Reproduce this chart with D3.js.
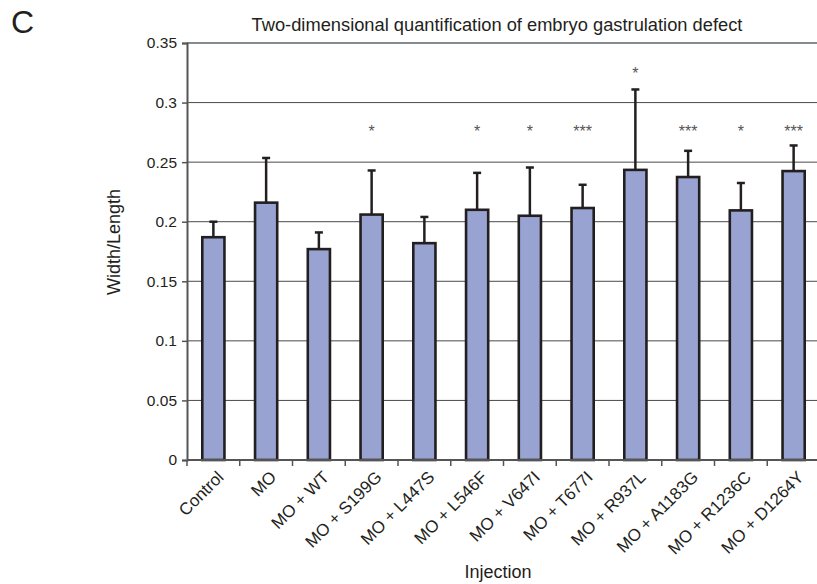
<!DOCTYPE html>
<html>
<head>
<meta charset="utf-8">
<script src="https://cdn.jsdelivr.net/npm/d3@7"></script>
<style>
  body { margin: 0; background: #fff; }
  svg { display: block; font-family: "Liberation Sans", Arial, sans-serif; }
</style>
</head>
<body>
<svg id="chart" width="817" height="584"></svg>
<script>
// data
const categories = ['Control', 'MO', 'MO + WT', 'MO + S199G', 'MO + L447S', 'MO + L546F',
  'MO + V647I', 'MO + T677I', 'MO + R937L', 'MO + A1183G', 'MO + R1236C', 'MO + D1264Y'];
const means = [0.187, 0.216, 0.177, 0.206, 0.182, 0.210, 0.205, 0.2115, 0.2435, 0.2375, 0.2095, 0.2425];
const errTops = [0.200, 0.2535, 0.191, 0.243, 0.204, 0.241, 0.2455, 0.231, 0.311, 0.2595, 0.2325, 0.264];
const stars = ['', '', '', '*', '', '*', '*', '***', '*', '***', '*', '***'];
const yTicks = [0, 0.05, 0.1, 0.15, 0.2, 0.25, 0.3, 0.35];

const svg = d3.select('#chart'),
  plotLeft = 187, plotRight = 820, plotTop = 43, plotBottom = 460;

const x = d3.scaleBand()
  .domain(categories)
  .range([plotLeft, plotRight])
  .paddingInner(0.58)
  .paddingOuter(0.29);

const y = d3.scaleLinear()
  .domain([0, 0.35])
  .range([plotBottom, plotTop]);

// gridlines
svg.append('g')
  .selectAll('line')
  .data(yTicks.filter(d => d > 0 && d < 0.35))
  .enter()
  .append('line')
  .attr('x1', plotLeft).attr('x2', plotRight)
  .attr('y1', d => y(d)).attr('y2', d => y(d))
  .attr('stroke', '#4a4a4a')
  .attr('stroke-width', 1);

// top frame line
svg.append('line')
  .attr('x1', plotLeft).attr('x2', plotRight)
  .attr('y1', y(0.35)).attr('y2', y(0.35))
  .attr('stroke', '#838c92')
  .attr('stroke-width', 2);

// bars
svg.append('g')
  .selectAll('rect')
  .data(categories)
  .enter()
  .append('rect')
  .attr('x', d => x(d))
  .attr('width', x.bandwidth())
  .attr('y', (d, i) => y(means[i]))
  .attr('height', (d, i) => plotBottom - y(means[i]))
  .attr('fill', '#99a3d2')
  .attr('stroke', '#231f20')
  .attr('stroke-width', 2.6);

// error bars
const err = svg.append('g').attr('stroke', '#231f20').attr('stroke-width', 2.5);
categories.forEach((c, i) => {
  const cx = x(c) + x.bandwidth() / 2;
  err.append('line')
    .attr('x1', cx).attr('x2', cx)
    .attr('y1', y(means[i])).attr('y2', y(errTops[i]));
  err.append('line')
    .attr('x1', cx - 4).attr('x2', cx + 4)
    .attr('y1', y(errTops[i])).attr('y2', y(errTops[i]));
});

// significance stars
svg.append('g')
  .selectAll('text')
  .data(categories)
  .enter()
  .append('text')
  .attr('x', d => x(d) + x.bandwidth() / 2)
  .attr('y', (d, i) => i === 8 ? y(0.311) - 10 : y(0.2715))
  .attr('text-anchor', 'middle')
  .attr('font-size', 16)
  .attr('fill', '#555')
  .text((d, i) => stars[i]);

// y axis
const yAxisG = svg.append('g')
  .attr('transform', `translate(${plotLeft},0)`)
  .call(d3.axisLeft(y).tickValues(yTicks).tickSize(5).tickFormat(d => d === 0 ? '0' : String(d)));
yAxisG.select('.domain').attr('stroke', '#555').attr('stroke-width', 2);
yAxisG.selectAll('.tick line').attr('stroke', '#555').attr('stroke-width', 1.5);
yAxisG.selectAll('text').attr('font-size', 15.5).attr('fill', '#231f20').attr('x', -10)
  .attr('font-family', '"Liberation Sans", Arial, sans-serif');

// x axis with ticks at category boundaries
const xAxisG = svg.append('g').attr('transform', `translate(0,${plotBottom})`);
xAxisG.append('line')
  .attr('x1', plotLeft).attr('x2', plotRight)
  .attr('stroke', '#555').attr('stroke-width', 2);
const step = x.step();
xAxisG.selectAll('line.tk')
  .data(d3.range(categories.length + 1))
  .enter()
  .append('line')
  .attr('class', 'tk')
  .attr('x1', i => plotLeft + i * step).attr('x2', i => plotLeft + i * step)
  .attr('y1', 0).attr('y2', 6)
  .attr('stroke', '#555').attr('stroke-width', 1.5);
xAxisG.selectAll('text')
  .data(categories)
  .enter()
  .append('text')
  .attr('transform', d => `translate(${x(d) + x.bandwidth() / 2 + 7},14) rotate(-45)`)
  .attr('text-anchor', 'end')
  .attr('dy', '0.35em')
  .attr('font-size', 17)
  .attr('fill', '#231f20')
  .text(d => d);

// titles
svg.append('text')
  .attr('x', 497).attr('y', 31)
  .attr('text-anchor', 'middle')
  .attr('font-size', 18.3)
  .attr('fill', '#231f20')
  .text('Two-dimensional quantification of embryo gastrulation defect');

svg.append('text')
  .attr('x', 11).attr('y', 33)
  .attr('font-size', 32)
  .attr('fill', '#231f20')
  .text('C');

svg.append('text')
  .attr('transform', 'translate(120,242) rotate(-90)')
  .attr('text-anchor', 'middle')
  .attr('font-size', 18)
  .attr('fill', '#231f20')
  .text('Width/Length');

svg.append('text')
  .attr('x', 498).attr('y', 578)
  .attr('text-anchor', 'middle')
  .attr('font-size', 18)
  .attr('fill', '#231f20')
  .text('Injection');
</script>
</body>
</html>
